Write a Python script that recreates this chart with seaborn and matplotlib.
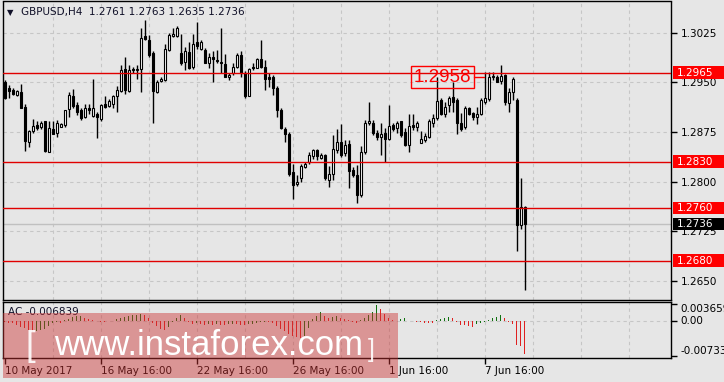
import numpy as np
import pandas as pd
import matplotlib
matplotlib.use("Agg")
import matplotlib.pyplot as plt
import matplotlib.transforms as mtransforms
from matplotlib.patches import Rectangle
import seaborn as sns

# ---------------- data ----------------
opens = [1.2951, 1.2941, 1.2939, 1.2931, 1.2935, 1.2913, 1.2860, 1.2876, 1.2886, 1.2882,
         1.2891, 1.2845, 1.2880, 1.2873, 1.2883, 1.2885, 1.2910, 1.2930, 1.2916, 1.2908,
         1.2898, 1.2912, 1.2900, 1.2902, 1.2895, 1.2917, 1.2915, 1.2917, 1.2929, 1.2937,
         1.2970, 1.2937, 1.2970, 1.2969, 1.2970, 1.3021, 1.3014, 1.2994, 1.2935, 1.2952,
         1.2954, 1.2999, 1.3021, 1.3021, 1.2994, 1.2981, 1.2996, 1.2973, 1.3011, 1.3001,
         1.2999, 1.2979, 1.2988, 1.2984, 1.2981, 1.2978, 1.2958, 1.2964, 1.2973, 1.2992,
         1.2965, 1.2930, 1.2973, 1.2972, 1.2985, 1.2974, 1.2959, 1.2958, 1.2941, 1.2909,
         1.2879, 1.2872, 1.2814, 1.2796, 1.2805, 1.2822, 1.2829, 1.2838, 1.2847, 1.2836,
         1.2840, 1.2803, 1.2812, 1.2847, 1.2860, 1.2843, 1.2857, 1.2818, 1.2810, 1.2780,
         1.2845, 1.2888, 1.2889, 1.2874, 1.2868, 1.2874, 1.2865, 1.2886, 1.2881, 1.2891,
         1.2875, 1.2855, 1.2886, 1.2882, 1.2859, 1.2863, 1.2868, 1.2888, 1.2896, 1.2923,
         1.2902, 1.2916, 1.2928, 1.2923, 1.2888, 1.2883, 1.2912, 1.2904, 1.2897, 1.2903,
         1.2921, 1.2925, 1.2958, 1.2958, 1.2953, 1.2961, 1.2919, 1.2935, 1.2924, 1.2734,
         1.2761]
highs = [1.2954, 1.2946, 1.2941, 1.2939, 1.2947, 1.2918, 1.2878, 1.2894, 1.2891, 1.2891,
         1.2892, 1.2891, 1.2891, 1.2893, 1.2889, 1.2909, 1.2935, 1.2940, 1.2920, 1.2912,
         1.2918, 1.2918, 1.2956, 1.2905, 1.2918, 1.2929, 1.2925, 1.2931, 1.2945, 1.2977,
         1.2988, 1.2977, 1.2974, 1.2977, 1.3032, 1.3045, 1.3022, 1.2998, 1.2954, 1.2959,
         1.3009, 1.3025, 1.3032, 1.3036, 1.3024, 1.3004, 1.3012, 1.3023, 1.3042, 1.3015,
         1.3002, 1.2995, 1.2998, 1.2999, 1.3033, 1.2993, 1.2965, 1.2979, 1.2994, 1.2997,
         1.2967, 1.2972, 1.2979, 1.2987, 1.3014, 1.2984, 1.2964, 1.2961, 1.2944, 1.2911,
         1.2883, 1.2875, 1.2827, 1.2810, 1.2826, 1.2830, 1.2844, 1.2849, 1.2850, 1.2843,
         1.2842, 1.2823, 1.2870, 1.2879, 1.2887, 1.2863, 1.2863, 1.2822, 1.2825, 1.2854,
         1.2893, 1.2920, 1.2893, 1.2878, 1.2888, 1.2881, 1.2916, 1.2889, 1.2891, 1.2892,
         1.2881, 1.2903, 1.2903, 1.2892, 1.2876, 1.2873, 1.2894, 1.2903, 1.2958, 1.2926,
         1.2921, 1.2929, 1.2950, 1.2926, 1.2904, 1.2914, 1.2913, 1.2906, 1.2913, 1.2926,
         1.2966, 1.2966, 1.2966, 1.2961, 1.2977, 1.2963, 1.2941, 1.2959, 1.2926, 1.2805,
         1.2763]
lows = [1.2925, 1.2927, 1.2931, 1.2929, 1.2911, 1.2846, 1.2853, 1.2873, 1.2878, 1.2880,
        1.2845, 1.2844, 1.2872, 1.2868, 1.2882, 1.2883, 1.2897, 1.2912, 1.2901, 1.2893,
        1.2896, 1.2902, 1.2898, 1.2866, 1.2892, 1.2912, 1.2913, 1.2912, 1.2905, 1.2936,
        1.2932, 1.2936, 1.2964, 1.2956, 1.2935, 1.3014, 1.2989, 1.2888, 1.2934, 1.2951,
        1.2952, 1.2997, 1.3019, 1.3019, 1.2977, 1.2969, 1.2971, 1.2971, 1.3000, 1.2999,
        1.2979, 1.2972, 1.2951, 1.2979, 1.2964, 1.2958, 1.2954, 1.2961, 1.2972, 1.2959,
        1.2926, 1.2929, 1.2969, 1.2972, 1.2972, 1.2939, 1.2943, 1.2931, 1.2898, 1.2879,
        1.2860, 1.2808, 1.2774, 1.2793, 1.2800, 1.2820, 1.2827, 1.2834, 1.2833, 1.2834,
        1.2802, 1.2792, 1.2803, 1.2843, 1.2837, 1.2838, 1.2790, 1.2807, 1.2768, 1.2777,
        1.2841, 1.2886, 1.2870, 1.2863, 1.2840, 1.2829, 1.2863, 1.2876, 1.2873, 1.2868,
        1.2854, 1.2845, 1.2878, 1.2876, 1.2858, 1.2860, 1.2866, 1.2883, 1.2893, 1.2901,
        1.2898, 1.2906, 1.2906, 1.2872, 1.2877, 1.2880, 1.2901, 1.2893, 1.2887, 1.2901,
        1.2918, 1.2922, 1.2954, 1.2950, 1.2948, 1.2916, 1.2906, 1.2924, 1.2694, 1.2728,
        1.2635]
closes = [1.2926, 1.2937, 1.2932, 1.2937, 1.2912, 1.2861, 1.2876, 1.2884, 1.2881, 1.2888,
          1.2846, 1.2881, 1.2872, 1.2888, 1.2887, 1.2908, 1.2931, 1.2914, 1.2906, 1.2896,
          1.2912, 1.2908, 1.2912, 1.2897, 1.2916, 1.2913, 1.2922, 1.2929, 1.2939, 1.2969,
          1.2939, 1.2969, 1.2969, 1.2970, 1.3018, 1.3016, 1.2991, 1.2937, 1.2951, 1.2955,
          1.3001, 1.3022, 1.3024, 1.3033, 1.2979, 1.2998, 1.2972, 1.3008, 1.3006, 1.3012,
          1.2980, 1.2989, 1.2985, 1.2983, 1.2979, 1.2959, 1.2962, 1.2973, 1.2992, 1.2964,
          1.2930, 1.2970, 1.2972, 1.2986, 1.2974, 1.2956, 1.2956, 1.2941, 1.2909, 1.2881,
          1.2872, 1.2811, 1.2795, 1.2799, 1.2823, 1.2827, 1.2840, 1.2847, 1.2838, 1.2840,
          1.2805, 1.2812, 1.2849, 1.2860, 1.2840, 1.2855, 1.2816, 1.2810, 1.2780, 1.2844,
          1.2889, 1.2891, 1.2874, 1.2867, 1.2872, 1.2864, 1.2884, 1.2880, 1.2888, 1.2870,
          1.2855, 1.2884, 1.2883, 1.2889, 1.2865, 1.2869, 1.2891, 1.2896, 1.2922, 1.2902,
          1.2913, 1.2926, 1.2921, 1.2888, 1.2880, 1.2912, 1.2902, 1.2897, 1.2902, 1.2924,
          1.2926, 1.2958, 1.2960, 1.2951, 1.2960, 1.2921, 1.2936, 1.2956, 1.2734, 1.2762,
          1.2736]
# Accelerator Oscillator values
ac_values = [-0.0002, -0.0003, -0.0004, -0.0007, -0.0011, -0.0015, -0.0019, -0.0022, -0.0021, -0.0019,
             -0.0016, -0.0010, -0.0004, -0.0002, -0.0003, 0.0002, 0.0005, 0.0009, 0.0011, 0.0012,
             0.0008, 0.0004, 0.0002, 0.0001, -0.0001, -0.0002, 0.0000, 0.0001, 0.0004, 0.0007,
             0.0009, 0.0012, 0.0013, 0.0014, 0.0016, 0.0013, 0.0006, -0.0003, -0.0010, -0.0016,
             -0.0019, -0.0012, -0.0002, 0.0008, 0.0014, 0.0006, -0.0002, -0.0005, -0.0003, -0.0006,
             -0.0008, -0.0006, -0.0007, -0.0005, -0.0007, -0.0008, -0.0006, -0.0005, -0.0006, -0.0007,
             -0.0008, -0.0006, -0.0005, -0.0004, -0.0002, -0.0001, -0.0002, -0.0004, -0.0010, -0.0016,
             -0.0021, -0.0026, -0.0031, -0.0034, -0.0035, -0.0030, -0.0015, 0.0004, 0.0012, 0.0019,
             0.0012, 0.0007, 0.0009, 0.0011, 0.0008, 0.0005, 0.0002, -0.0001, -0.0003, 0.0002,
             0.0008, 0.0013, 0.0020, 0.0035, 0.0027, 0.0016, 0.0006, 0.0002, 0.00015, 0.00055,
             0.0006, 0.0001, 0.00005, -0.0001, -0.0002, -0.0003, -0.00035, -0.0004, 0.0002, 0.0005,
             0.0007, 0.0009, 0.0007, -0.0002, -0.0007, -0.00085, -0.0009, -0.0012, -0.0005, -0.0003,
             -0.00015, 0.0002, 0.0007, 0.0009, 0.0013, 0.0006, -0.0001, -0.0005, -0.0049, -0.0053,
             -0.006839]

symbol_line = "GBPUSD,H4  1.2761 1.2763 1.2635 1.2736"
ac_label = "AC -0.006839"
time_labels = ["10 May 2017", "16 May 16:00", "22 May 16:00", "26 May 16:00", "1 Jun 16:00", "7 Jun 16:00"]
time_label_bars = [0, 24, 48, 72, 96, 120]
price_ticks = [1.3025, 1.2950, 1.2875, 1.2800, 1.2725, 1.2650]
level_lines = [1.2965, 1.2830, 1.2760, 1.2680]
bid_price = 1.2736
marked_price = 1.2958
marked_bar = 109.4
ac_ticks = [0.003659, 0.0, -0.00733]
ac_tick_labels = ["0.003659", "0.00", "-0.00733"]

# ---------------- style ----------------
sns.set_style("white")
plt.rcParams["font.family"] = ["DejaVu Sans"]
BG = "#e6e6e6"
GRID = "#c6c6c6"
W, H = 724, 382

fig = plt.figure(figsize=(W / 100, H / 100), dpi=100, facecolor=BG)
ax = fig.add_axes([3 / W, (H - 300) / H, 668 / W, 298.5 / H])
ax2 = fig.add_axes([3 / W, (H - 358) / H, 668 / W, 56 / H])

n = len(opens)
xs = np.arange(n)
df = pd.DataFrame({"bar": xs, "open": opens, "high": highs, "low": lows, "close": closes,
                   "ac": ac_values})

for a in (ax, ax2):
    a.set_facecolor(BG)
    for s in a.spines.values():
        s.set_color("black")
        s.set_linewidth(1.0)
    a.set_xlim(-0.4, 166.6)
    for gx in range(12, 167, 12):
        a.axvline(gx, color=GRID, lw=0.8, ls=(0, (3, 3)), zorder=0)

# ---------- main price panel ----------
ax.set_ylim(1.26205, 1.30727)
for p in price_ticks:
    ax.axhline(p, color=GRID, lw=0.8, ls=(0, (3, 3)), zorder=0)

ax.vlines(df["bar"], df["low"], df["high"], color="black", lw=1.0, zorder=2)
up = df["close"] >= df["open"]
body_lo = np.minimum(df["open"], df["close"])
body_h = np.maximum(np.abs(df["close"] - df["open"]), 0.00004)
ax.bar(df["bar"][up], body_h[up], bottom=body_lo[up], width=0.5, color="white",
       edgecolor="black", linewidth=0.8, zorder=3)
ax.bar(df["bar"][~up], body_h[~up], bottom=body_lo[~up], width=0.5, color="black",
       edgecolor="black", linewidth=0.8, zorder=3)

for lv in level_lines:
    ax.axhline(lv, color="#e00000", lw=1.0, zorder=4)
ax.axhline(bid_price, color="#c0c0c0", lw=1.0, zorder=1)

ax.yaxis.tick_right()
ax.set_yticks(price_ticks)
ax.set_yticklabels([f"{p:.4f}" for p in price_ticks])
ax.tick_params(axis="y", direction="out", length=4, width=1, pad=3, labelsize=7.5,
               colors="black", right=True, left=False)
ax.set_xticks([])

# coloured price labels on the right scale
bt = mtransforms.blended_transform_factory(fig.transFigure, ax.transData)
box_h = 12.5 * (1.30727 - 1.26205) / 298.5
for lv, col in [(l, "#ff0000") for l in level_lines] + [(bid_price, "#000000")]:
    ax.add_patch(Rectangle((673 / W, lv - box_h / 2), 51 / W, box_h, transform=bt,
                           facecolor=col, edgecolor="none", clip_on=False, zorder=10))
    ax.text(677 / W, lv, f"{lv:.4f}", transform=bt, color="white", fontsize=7.5,
            va="center", ha="left", clip_on=False, zorder=11)

# marked price label
ax.text(marked_bar, marked_price, f"{marked_price:.4f}", color="#ff0000",
        fontsize=13.5, family=["Liberation Sans", "DejaVu Sans"], ha="center", va="center",
        zorder=6, bbox=dict(boxstyle="square,pad=0.14", fc="none", ec="#ff0000", lw=1.0))
ax.plot([marked_bar + 7.9, marked_bar + 10.5], [marked_price, marked_price],
        color="#ff0000", lw=1.0, zorder=6)

fig.text(7 / W, 1 - 12.5 / H, "\u25bc", fontsize=6, va="center", ha="left", color="#101028")
fig.text(21 / W, 1 - 12.5 / H, symbol_line, fontsize=7.5, va="center", ha="left",
         color="#101028")

# ---------- AC panel ----------
ymax = 0.003659 + 2 * 0.0002113
ymin = -0.00733 - 2 * 0.0002113
ax2.set_ylim(ymin, ymax)
ax2.axhline(0, color=GRID, lw=0.8, ls=(0, (3, 3)), zorder=0)
df["dir"] = np.where(df["ac"].diff().fillna(0) > 0, "up", "down")
sns.barplot(data=df, x="bar", y="ac", hue="dir", palette={"up": "#008000", "down": "#ff0000"},
            native_scale=True, dodge=False, width=0.3, linewidth=0, legend=False,
            ax=ax2, zorder=2)
ax2.set_xlim(-0.4, 166.6)
ax2.set_ylim(ymin, ymax)
ax2.set_xlabel("")
ax2.set_ylabel("")
ax2.yaxis.tick_right()
ax2.set_yticks(ac_ticks)
ax2.set_yticklabels(ac_tick_labels)
for lab, va in zip(ax2.get_yticklabels(), ["top", "center", "bottom"]):
    lab.set_verticalalignment(va)
ax2.tick_params(axis="y", direction="out", length=4, width=1, pad=3, labelsize=7.5,
                colors="black", right=True, left=False)
ax2.set_xticks(time_label_bars)
ax2.set_xticklabels(time_labels)
for lab in ax2.get_xticklabels():
    lab.set_horizontalalignment("left")
ax2.tick_params(axis="x", direction="out", length=4, width=1, pad=2, labelsize=7.5,
                colors="black", bottom=True)
ax2.text(5 / 668, 1 - 10 / 56, ac_label, transform=ax2.transAxes, fontsize=7.5,
         va="center", ha="left", color="#101028", zorder=5)

# ---------- watermark ----------
fig.patches.append(Rectangle((3 / W, (H - 378) / H), 395 / W, 65.5 / H,
                             transform=fig.transFigure, facecolor=(0.80, 0.20, 0.20),
                             alpha=0.45, edgecolor="none", zorder=20))
wm_font = ["Liberation Sans", "DejaVu Sans"]
fig.text(54 / W, (H - 355) / H, "www.instaforex.com", fontsize=25, family=wm_font,
         color="white", va="baseline", ha="left", zorder=21)
fig.text(25 / W, (H - 356) / H, "[", fontsize=25, family=wm_font, color="white",
         va="baseline", ha="left", zorder=21, alpha=0.9)
fig.text(368 / W, (H - 357) / H, "]", fontsize=18, family=wm_font, color="white",
         va="baseline", ha="left", zorder=21, alpha=0.9)

fig.savefig("out.png", dpi=100, facecolor=BG)
